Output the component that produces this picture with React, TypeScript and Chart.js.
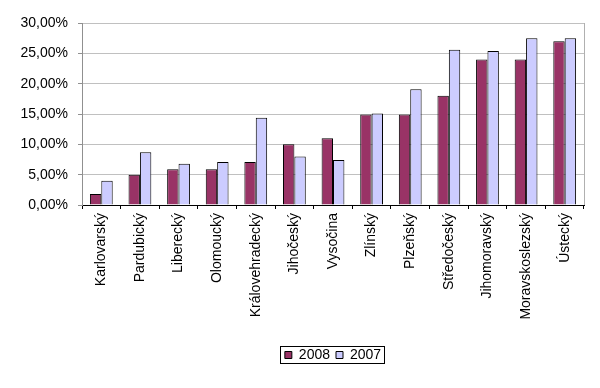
import React, { useEffect, useRef } from "react";
import { Chart, registerables } from "chart.js";

Chart.register(...registerables);

const categories = [
  "Karlovarský", "Pardubický", "Liberecký", "Olomoucký", "Královehradecký",
  "Jihočeský", "Vysočina", "Zlínský", "Plzeňský", "Středočeský",
  "Jihomoravský", "Moravskoslezský", "Ústecký",
];
const values2008 = [1.8, 5.0, 5.9, 5.9, 7.1, 10.0, 11.0, 14.9, 14.9, 18.0, 24.0, 24.0, 27.0];
const values2007 = [4.0, 8.7, 6.8, 7.1, 14.4, 8.0, 7.4, 15.1, 19.1, 25.6, 25.4, 27.5, 27.5];
const seriesNames = ["2008", "2007"];
const yTicks = [0, 5, 10, 15, 20, 25, 30];

const FONT = "'Liberation Sans', Arial, sans-serif";

const frameAndLegendBox = {
  id: "frameAndLegendBox",
  beforeDatasetsDraw(chart: any) {
    const { ctx, chartArea } = chart;
    ctx.save();
    ctx.strokeStyle = "#b0b0b0";
    ctx.lineWidth = 1;
    ctx.beginPath();
    const x = Math.round(chartArea.right) + 0.5;
    ctx.moveTo(x, chartArea.top);
    ctx.lineTo(x, chartArea.bottom);
    ctx.stroke();
    ctx.restore();
  },
  afterDraw(chart: any) {
    const lg = chart.legend;
    if (!lg || !lg.legendHitBoxes || !lg.legendHitBoxes.length) return;
    const boxes = lg.legendHitBoxes;
    let l = Infinity, r = -Infinity, t = Infinity, b = -Infinity;
    for (const h of boxes) {
      l = Math.min(l, h.left);
      r = Math.max(r, h.left + h.width);
      t = Math.min(t, h.top);
      b = Math.max(b, h.top + h.height);
    }
    const { ctx } = chart;
    ctx.save();
    ctx.strokeStyle = "#000";
    ctx.lineWidth = 1;
    ctx.strokeRect(Math.round(l - 5) + 0.5, Math.round(t - 2) + 0.5, Math.round(r - l + 8), Math.round(b - t + 3));
    ctx.restore();
  },
};

export default function App() {
  const ref = useRef<HTMLCanvasElement | null>(null);

  useEffect(() => {
    if (!ref.current) return;
    const chart = new Chart(ref.current, {
      type: "bar",
      data: {
        labels: categories,
        datasets: [
          {
            label: seriesNames[0],
            data: values2008,
            backgroundColor: "#993366",
            borderColor: "#000000",
            borderWidth: 1,
            categoryPercentage: 0.59,
            barPercentage: 1,
          },
          {
            label: seriesNames[1],
            data: values2007,
            backgroundColor: "#CCCCFF",
            borderColor: "#000000",
            borderWidth: 1,
            categoryPercentage: 0.59,
            barPercentage: 1,
          },
        ],
      },
      options: {
        responsive: false,
        animation: false,
        layout: { padding: { left: 10, right: 16, top: 23, bottom: 16 } },
        plugins: {
          tooltip: { enabled: false },
          legend: {
            position: "bottom",
            fullSize: false,
            labels: {
              boxWidth: 7,
              boxHeight: 7,
              padding: 6,
              color: "#000",
              font: { family: FONT, size: 14 },
            },
          },
        },
        scales: {
          x: {
            grid: {
              offset: true,
              drawOnChartArea: false,
              color: "#000",
              tickLength: 4,
            },
            border: { color: "#000", width: 1 },
            ticks: {
              autoSkip: false,
              maxRotation: 90,
              minRotation: 90,
              padding: 4,
              color: "#000",
              font: { family: FONT, size: 14 },
            },
            afterFit(scale: any) {
              scale.height = 137;
            },
          },
          y: {
            min: 0,
            max: 30,
            afterBuildTicks(scale: any) {
              scale.ticks = yTicks.map((v) => ({ value: v }));
            },
            grid: {
              color: "#c0c0c0",
              tickLength: 4,
              tickColor: "#909090",
            },
            border: { color: "#909090", width: 1 },
            ticks: {
              padding: 10,
              color: "#000",
              font: { family: FONT, size: 14 },
              callback: (v: any) => Number(v).toFixed(2).replace(".", ",") + "%",
            },
            afterFit(scale: any) {
              scale.width = 72;
            },
          },
        },
      },
      plugins: [frameAndLegendBox],
    });
    return () => chart.destroy();
  }, []);

  return (
    <div style={{ position: "absolute", left: 0, top: 0, width: 600, height: 388, background: "#fff" }}>
      <canvas ref={ref} width={600} height={388} style={{ display: "block" }} />
    </div>
  );
}
